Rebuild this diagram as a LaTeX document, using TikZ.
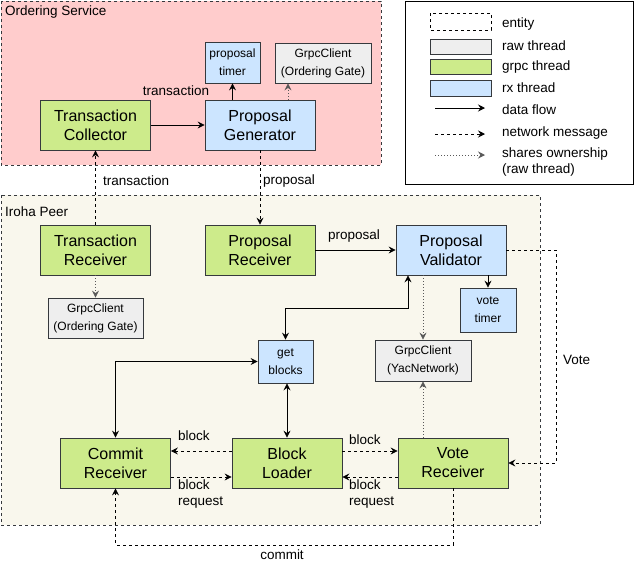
\documentclass[tikz,border=0pt]{standalone}
\usepackage{fontspec}
\setmainfont{Liberation Sans}
\usetikzlibrary{arrows.meta}
\definecolor{osfill}{HTML}{FFCCCC}
\definecolor{ipfill}{HTML}{F9F7ED}
\definecolor{grpcfill}{HTML}{CDEB8B}
\definecolor{rxfill}{HTML}{CCE5FF}
\definecolor{rawfill}{HTML}{EEEEEE}
\definecolor{edgec}{HTML}{36393D}
\tikzset{
  tip/.tip={Stealth[length=7pt,width=7pt,inset=2.5pt]},
  box/.style={draw=edgec,rectangle,align=center,inner sep=0pt,line width=0.8pt,
    font=\fontsize{16}{19}\selectfont,minimum width=110pt,minimum height=50pt},
  grpcbox/.style={box,fill=grpcfill},
  rxbox/.style={box,fill=rxfill},
  smallbox/.style={draw=edgec,rectangle,align=center,inner sep=0pt,line width=0.8pt,
    font=\fontsize{12}{18}\selectfont},
  lbl/.style={font=\fontsize{13.5}{16}\selectfont,align=left,inner sep=0pt},
  flow/.style={-tip,line width=0.8pt},
  both/.style={tip-tip,line width=0.8pt},
  net/.style={-tip,line width=0.8pt,dash pattern=on 3pt off 3pt},
  own/.style={-tip,line width=0.8pt,draw=black!65,dash pattern=on 1pt off 2pt},
}
\begin{document}
\begin{tikzpicture}[x=1pt,y=-1pt]
    \useasboundingbox (0,0) rectangle (636,566);
    %% Entities
    \draw[fill=osfill,draw=edgec,line width=0.8pt,dash pattern=on 3pt off 3pt] (1,1) rectangle (381,165);
    \node[lbl,anchor=west] (os) at (5,12) {Ordering Service};
    \draw[fill=ipfill,draw=edgec,line width=0.8pt,dash pattern=on 3pt off 3pt] (1,195) rectangle (540,525);
    \node[lbl,anchor=west] (ip) at (5,212) {Iroha Peer};
    %% Ordering service
    \node[grpcbox] (TC) at (95.5,125) {Transaction\\Collector};
    \node[rxbox] (PG) at (260,125) {Proposal\\Generator};
    \node[smallbox,fill=rxfill,minimum width=55pt,minimum height=41pt] (PT) at (232.5,62.5) {proposal\\timer};
    \node[smallbox,fill=rawfill,minimum width=96pt,minimum height=40pt] (GO) at (323,63) {GrpcClient\\(Ordering Gate)};
    %% Iroha peer
    \node[grpcbox] (TR) at (95.5,250) {Transaction\\Receiver};
    \node[grpcbox] (PR) at (260,250) {Proposal\\Receiver};
    \node[rxbox] (PV) at (451,250) {Proposal\\Validator};
    \node[smallbox,fill=rawfill,minimum width=95pt,minimum height=40pt] (GO2) at (95.5,318) {GrpcClient\\(Ordering Gate)};
    \node[smallbox,fill=rxfill,minimum width=55pt,minimum height=43pt] (GB) at (285.5,361.5) {get\\blocks};
    \node[smallbox,fill=rxfill,minimum width=56pt,minimum height=44pt] (VT) at (488,310) {vote\\timer};
    \node[smallbox,fill=rawfill,minimum width=96pt,minimum height=41pt] (GY) at (423,360.5) {GrpcClient\\(YacNetwork)};
    \node[grpcbox] (CR) at (115.5,463) {Commit\\Receiver};
    \node[grpcbox] (BL) at (287,463) {Block\\Loader};
    \node[grpcbox] (VR) at (453,463) {Vote\\Receiver};
    %% Connections
    \draw[flow] (TC) -- (PG);
    \node[lbl] (lt1) at (176,91) {transaction};
    \draw[flow] (PT.south |- PG.north) -- (PT.south);
    \draw[own] ([xshift=28pt]PG.north) -- ([xshift=28pt]PG.north |- GO.south);
    \draw[net] (TR) -- (TC);
    \node[lbl,anchor=west] (lt2) at (103,181) {transaction};
    \draw[net] (PG) -- (PR);
    \node[lbl,anchor=west] (lp1) at (263,181) {proposal};
    \draw[own] (TR) -- (GO2);
    \draw[flow] (PR) -- (PV);
    \node[lbl] (lp2) at (354,236) {proposal};
    \draw[flow] (VT.north |- PV.south) -- (VT.north);
    \draw[own] (GY.north |- PV.south) -- (GY.north);
    \draw[own] (GY.south |- VR.north) -- (GY.south);
    \draw[both] (GB.north) -- (GB.north |- 0,308) -| ([xshift=-43pt]PV.south);
    \draw[both] (GB.west) -| (CR.north);
    \draw[both] (GB.south -| BL.north) -- (BL.north);
    %% Block exchange
    \draw[net] ([yshift=12pt]BL.west) -- ([yshift=12pt]CR.east);
    \node[lbl,anchor=west] (lb1) at (178,436) {block};
    \draw[net] ([yshift=-14pt]CR.east) -- ([yshift=-14pt]BL.west);
    \node[lbl,anchor=north west] (lr1) at (178,480) {block\\request};
    \draw[net] ([yshift=12pt]BL.east) -- ([yshift=12pt]VR.west);
    \node[lbl,anchor=west] (lb2) at (349,440) {block};
    \draw[net] ([yshift=-14pt]VR.west) -- ([yshift=-14pt]BL.east);
    \node[lbl,anchor=north west] (lr2) at (349,480) {block\\request};
    %% Vote and commit
    \coordinate (voteX) at (556,0);
    \draw[net] (PV.east) -| (voteX |- VR.east) -- (VR.east);
    \node[lbl,anchor=west] (lv) at (563,360) {Vote};
    \coordinate (commitY) at (0,545);
    \draw[net] (VR.south) -- (VR.south |- commitY) -| (CR.south);
    \node[lbl] (lc) at (282,555) {commit};
    %% Legend
    \draw[draw=black,fill=white,line width=0.8pt] (405,1) rectangle (633,184);
    \draw[draw=black,line width=0.8pt,dash pattern=on 3pt off 3pt] (430,13) rectangle (491,30);
    \draw[draw=edgec,fill=rawfill,line width=0.8pt] (430,39) rectangle (491,54);
    \draw[draw=edgec,fill=grpcfill,line width=0.8pt] (430,59) rectangle (491,74);
    \draw[draw=edgec,fill=rxfill,line width=0.8pt] (430,80) rectangle (491,96);
    \coordinate (f1) at (435,108);
    \coordinate (f2) at (485,108);
    \draw[flow] (f1) -- (f2);
    \coordinate (n1) at (435,134);
    \coordinate (n2) at (485,134);
    \draw[net] (n1) -- (n2);
    \coordinate (s1) at (435,155);
    \coordinate (s2) at (485,155);
    \draw[own] (s1) -- (s2);
    \node[lbl,anchor=west] (k1) at (502,24) {entity};
    \node[lbl,anchor=west] (k2) at (502,46) {raw thread};
    \node[lbl,anchor=west] (k3) at (502,67) {grpc thread};
    \node[lbl,anchor=west] (k4) at (502,88) {rx thread};
    \node[lbl,anchor=west] (k5) at (502,110) {data flow};
    \node[lbl,anchor=west] (k6) at (502,133) {network message};
    \node[lbl,anchor=west] (k7) at (502,162) {shares ownership\\(raw thread)};
\end{tikzpicture}
\end{document}
